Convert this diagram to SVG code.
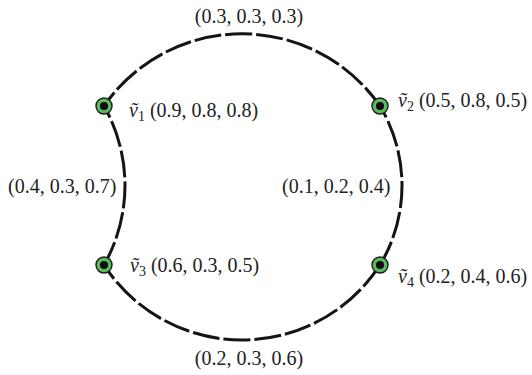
<svg xmlns="http://www.w3.org/2000/svg" width="532" height="375" viewBox="0 0 532 375">
<style>
.edge{fill:none;stroke:#141414;stroke-width:3;stroke-dasharray:27 4}
.ring{fill:#58bb5c;stroke:#1c1c1c;stroke-width:1.4}
.dot{fill:#120812}
text{font-family:"Liberation Serif","DejaVu Serif",serif;font-size:20px;fill:#222}
.v{font-style:italic}
.sub{font-size:14px}
</style>
<rect width="532" height="375" fill="#ffffff"/>
<g id="connectors">
<path class="edge" d="M104,106 A168,168 0 0 1 380,106" stroke-dashoffset="10"/>
<path class="edge" d="M104,265 A164.5,164.5 0 0 0 380,265" stroke-dashoffset="10"/>
<path class="edge" d="M104,106 A161,161 0 0 1 104,265" stroke-dashoffset="14"/>
<path class="edge" d="M380,106 A154.6,154.6 0 0 1 380,265" stroke-dashoffset="14"/>
<text x="249" y="23" text-anchor="middle">(0.3, 0.3, 0.3)</text>
<text x="249" y="365" text-anchor="middle">(0.2, 0.3, 0.6)</text>
<text x="8" y="193">(0.4, 0.3, 0.7)</text>
<text x="282" y="193">(0.1, 0.2, 0.4)</text>
</g>
<g id="v1">
<circle class="ring" cx="104" cy="106" r="8"/>
<circle class="dot" cx="104" cy="106" r="4"/>
<text x="129" y="117"><tspan class="v">ṽ</tspan><tspan class="sub" dy="4">1</tspan><tspan dy="-4"> (0.9, 0.8, 0.8)</tspan></text>
</g>
<g id="v2">
<circle class="ring" cx="380" cy="106" r="8"/>
<circle class="dot" cx="380" cy="106" r="4"/>
<text x="398" y="107"><tspan class="v">ṽ</tspan><tspan class="sub" dy="4">2</tspan><tspan dy="-4"> (0.5, 0.8, 0.5)</tspan></text>
</g>
<g id="v3">
<circle class="ring" cx="104" cy="265" r="8"/>
<circle class="dot" cx="104" cy="265" r="4"/>
<text x="130" y="272"><tspan class="v">ṽ</tspan><tspan class="sub" dy="4">3</tspan><tspan dy="-4"> (0.6, 0.3, 0.5)</tspan></text>
</g>
<g id="v4">
<circle class="ring" cx="380" cy="265" r="8"/>
<circle class="dot" cx="380" cy="265" r="4"/>
<text x="398" y="283"><tspan class="v">ṽ</tspan><tspan class="sub" dy="4">4</tspan><tspan dy="-4"> (0.2, 0.4, 0.6)</tspan></text>
</g>
</svg>
